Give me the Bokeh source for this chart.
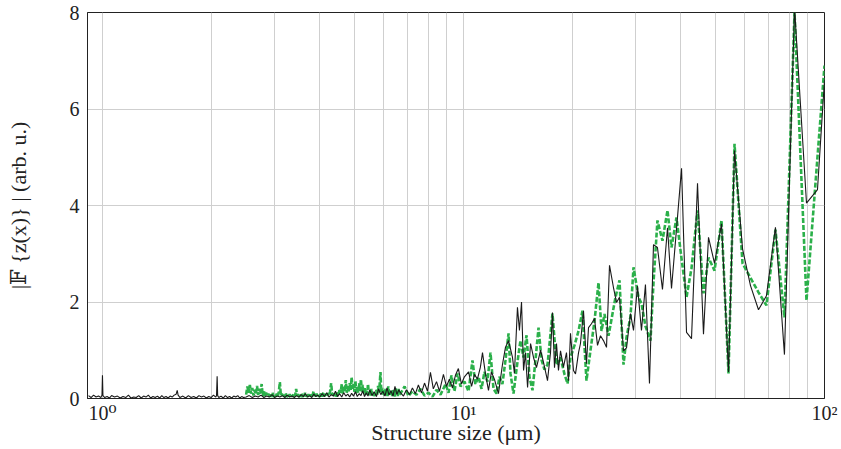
from bokeh.plotting import figure
from bokeh.models import Range1d, FixedTicker
from bokeh.embed import file_html
from bokeh.resources import INLINE

# ---------------- data ----------------
# black series: structure size (um) and |F{z(x)}|
black_x = [
    0.915, 0.93, 0.945, 0.96, 0.975, 0.99, 0.997, 1.0, 1.003, 1.015, 1.03, 1.045, 1.06, 1.08,
    1.10, 1.12, 1.14, 1.16, 1.18, 1.20, 1.22, 1.24, 1.26, 1.28, 1.30, 1.32, 1.34, 1.36, 1.38,
    1.40, 1.42, 1.44, 1.46, 1.48, 1.50, 1.52, 1.54, 1.56, 1.58, 1.60, 1.611, 1.62, 1.64, 1.67,
    1.70, 1.73, 1.76, 1.79, 1.82, 1.85, 1.88, 1.91, 1.94, 1.97, 2.00, 2.03, 2.06, 2.07, 2.078,
    2.085, 2.10, 2.13, 2.16, 2.19, 2.22, 2.25, 2.28, 2.31, 2.34, 2.37, 2.40, 2.43, 2.46,
    2.50, 2.55, 2.60, 2.65, 2.70, 2.75, 2.80, 2.85, 2.90, 2.95, 3.00, 3.05, 3.10, 3.15, 3.20,
    3.25, 3.30, 3.35, 3.40, 3.45, 3.50, 3.55, 3.60, 3.65, 3.70, 3.75, 3.80, 3.85, 3.90, 3.95,
    4.00, 4.06, 4.12, 4.18, 4.24, 4.30, 4.36, 4.42, 4.48, 4.54, 4.60, 4.66, 4.72, 4.78, 4.84,
    4.90, 4.96, 5.02, 5.08, 5.14, 5.20, 5.26, 5.32, 5.38, 5.44, 5.50, 5.58, 5.66, 5.74, 5.82,
    5.90, 5.98, 6.06, 6.14, 6.22, 6.30, 6.38, 6.46, 6.54, 6.62,
    6.69, 6.82, 6.95, 7.09, 7.22, 7.36, 7.50, 7.65, 7.80, 7.95, 8.10, 8.25, 8.42, 8.58, 8.80,
    8.97, 9.14, 9.32, 9.50, 9.68, 9.87, 10.06, 10.33, 10.53, 10.73, 10.93, 11.14, 11.29, 11.51,
    11.73, 11.95, 12.18, 12.50, 12.82, 13.07, 13.33, 13.67, 13.84, 14.11, 14.29, 14.48, 14.67,
    14.85, 15.05, 15.34, 15.63, 15.93, 16.35, 16.66, 17.09, 17.42, 17.64, 17.87, 18.10, 18.33,
    18.57, 18.92, 19.29, 19.54, 19.79, 20.17, 20.43, 20.83, 21.09, 21.50, 21.91, 22.20, 22.62,
    23.06, 23.51, 23.96, 24.42, 24.90,
    25.38, 26.03, 26.54, 27.05, 27.75, 28.29, 29.02, 29.58, 30.34, 31.12, 31.92, 32.75, 33.60,
    34.46, 35.58, 36.74, 37.69, 38.90, 40.18, 41.48, 42.82, 44.49, 46.22, 47.72, 49.59, 51.85,
    54.22, 56.33, 59.29, 62.37, 65.64, 69.06, 73.14, 77.46, 82.60, 89.15, 95.63, 100.0,
]
black_y = [
    0.06, 0.02, 0.07, 0.03, 0.05, 0.02, 0.07, 0.48, 0.06, 0.02, 0.04, 0.01, 0.06, 0.03,
    0.05, 0.01, 0.04, 0.02, 0.07, 0.01, 0.03, 0.02, 0.06, 0.01, 0.05, 0.03, 0.07, 0.01, 0.04,
    0.02, 0.05, 0.01, 0.06, 0.02, 0.04, 0.01, 0.05, 0.03, 0.07, 0.09, 0.17, 0.07, 0.02, 0.05,
    0.01, 0.06, 0.02, 0.04, 0.01, 0.06, 0.03, 0.05, 0.01, 0.04, 0.02, 0.07, 0.03, 0.06, 0.46,
    0.06, 0.02, 0.05, 0.01, 0.06, 0.02, 0.04, 0.01, 0.05, 0.03, 0.06, 0.01, 0.04, 0.02,
    0.03, 0.06, 0.02, 0.05, 0.03, 0.07, 0.02, 0.05, 0.03, 0.08, 0.02, 0.05, 0.03, 0.06, 0.02,
    0.07, 0.03, 0.05, 0.02, 0.06, 0.03, 0.08, 0.04, 0.10, 0.03, 0.06, 0.02, 0.09, 0.04, 0.07,
    0.03, 0.10, 0.04, 0.12, 0.03, 0.08, 0.05, 0.15, 0.04, 0.10, 0.03, 0.12, 0.05, 0.09, 0.03,
    0.11, 0.05, 0.14, 0.04, 0.10, 0.06, 0.16, 0.04, 0.12, 0.05, 0.18, 0.06, 0.14, 0.04, 0.20,
    0.08, 0.15, 0.05, 0.22, 0.07, 0.16, 0.05, 0.25, 0.08, 0.18,
    0.12, 0.05, 0.18, 0.08, 0.22, 0.10, 0.28, 0.12, 0.32, 0.15, 0.54, 0.20, 0.35, 0.15, 0.50,
    0.25, 0.40, 0.22, 0.48, 0.62, 0.30, 0.45, 0.55, 0.25, 0.50, 0.40, 0.65, 0.95, 0.50,
    0.17, 0.55, 0.40, 0.10, 0.70, 1.06, 1.20, 0.85, 0.52, 1.89, 1.41, 2.00, 0.58,
    0.95, 0.23, 1.14, 0.85, 0.64, 1.00, 0.75, 0.37, 0.95, 1.78, 0.64, 1.14, 0.58,
    0.99, 0.65, 0.95, 0.37, 1.35, 0.58, 0.51, 0.95, 1.14, 1.82, 0.72, 1.47, 1.55,
    1.66, 1.10, 1.30, 1.20, 1.06,
    2.76, 2.30, 1.99, 2.10, 0.99, 1.05, 1.76, 1.41, 2.33, 1.41, 2.36, 0.31, 3.19,
    3.13, 2.26, 3.54, 2.28, 3.50, 4.77, 1.37, 1.24, 4.46, 1.33, 3.34, 2.80, 3.62,
    0.55, 5.14, 3.10, 2.34, 1.84, 2.13, 3.55, 0.91, 8.10, 4.05, 4.33, 6.60,
]

# green series
green_x = [
    2.50, 2.52, 2.54, 2.56, 2.58, 2.60, 2.62, 2.64, 2.66, 2.68, 2.70, 2.72, 2.74, 2.76, 2.78,
    2.80, 2.82, 2.84, 2.86, 2.88, 2.90, 2.92, 2.94, 2.96, 2.98, 3.00, 3.02, 3.04, 3.06, 3.08,
    3.10, 3.12, 3.14, 3.16, 3.18, 3.20, 3.22, 3.24, 3.26, 3.28, 3.30, 3.32, 3.34, 3.36, 3.38,
    3.40, 3.42, 3.44, 3.46, 3.48, 3.50, 3.52, 3.54, 3.56, 3.58, 3.60, 3.62, 3.64, 3.66, 3.68,
    3.70, 3.72, 3.74, 3.76, 3.78, 3.80, 3.82, 3.84, 3.86, 3.88, 3.90, 3.92, 3.94, 3.96, 3.98,
    4.00, 4.03, 4.06, 4.09, 4.12, 4.15, 4.18, 4.21, 4.24, 4.27, 4.30, 4.33, 4.36, 4.39, 4.42,
    4.45, 4.48, 4.51, 4.54, 4.57, 4.60, 4.63, 4.66, 4.69, 4.72, 4.75, 4.78, 4.81, 4.84, 4.87,
    4.90, 4.93, 4.96, 4.99, 5.02, 5.05, 5.08, 5.11, 5.14, 5.17, 5.20, 5.23, 5.26, 5.29, 5.32,
    5.35, 5.38, 5.41, 5.44, 5.47, 5.50, 5.53, 5.56, 5.59, 5.62, 5.65, 5.68, 5.71, 5.74, 5.77,
    5.80, 5.83, 5.86, 5.89, 5.92, 5.95, 5.98, 6.01, 6.04, 6.07, 6.10, 6.13, 6.16, 6.19, 6.22,
    6.25, 6.28, 6.31, 6.34, 6.37, 6.40, 6.43, 6.46, 6.49, 6.52, 6.55, 6.58, 6.61, 6.64,
    6.69, 6.87, 7.04, 7.22, 7.41, 7.60, 7.80, 8.00, 8.21, 8.42, 8.64, 8.92, 9.09, 9.26, 9.44,
    9.63, 9.81, 10.06, 10.33, 10.59, 10.79, 11.01, 11.22, 11.43, 11.65, 11.88, 12.11, 12.35,
    12.58, 12.82, 13.07, 13.33, 13.50, 13.76, 14.02, 14.38, 14.67, 14.95, 15.23, 15.53, 15.83,
    16.14, 16.45, 16.76, 17.09, 17.64, 18.10, 18.57, 19.05, 19.42, 19.79, 20.30, 20.83, 21.36,
    21.91, 22.48, 23.06, 23.66, 24.12, 24.58, 25.22, 25.86, 26.37, 27.05, 27.75, 28.29, 29.02,
    29.58, 30.53, 31.12, 31.92, 32.96, 33.60,
    34.46, 35.58, 36.74, 37.69, 38.90, 40.18, 41.48, 42.82, 44.49, 46.22, 47.72, 49.59, 51.85,
    54.22, 56.33, 59.29, 62.37, 65.64, 69.06, 73.14, 77.46, 82.60, 89.15, 100.0,
]
green_y = [
    0.08, 0.25, 0.12, 0.28, 0.10, 0.22, 0.06, 0.18, 0.09, 0.26, 0.07, 0.20, 0.10, 0.30, 0.05,
    0.16, 0.04, 0.12, 0.05, 0.10, 0.03, 0.08, 0.04, 0.12, 0.03, 0.07, 0.04, 0.10, 0.05, 0.14,
    0.34, 0.06, 0.10, 0.03, 0.08, 0.04, 0.11, 0.03, 0.07, 0.04, 0.09, 0.03, 0.06, 0.04, 0.10,
    0.05, 0.08, 0.20, 0.05, 0.09, 0.03, 0.07, 0.04, 0.10, 0.03, 0.08, 0.05, 0.12, 0.04, 0.07,
    0.03, 0.09, 0.05, 0.11, 0.04, 0.07, 0.03, 0.15, 0.05, 0.08, 0.04, 0.10, 0.05, 0.07, 0.04,
    0.06, 0.10, 0.04, 0.12, 0.05, 0.09, 0.04, 0.11, 0.06, 0.14, 0.32, 0.07, 0.12, 0.05, 0.10,
    0.04, 0.13, 0.08, 0.20, 0.12, 0.30, 0.10, 0.24, 0.14, 0.38, 0.12, 0.26, 0.15, 0.32, 0.18,
    0.44, 0.20, 0.30, 0.14, 0.36, 0.10, 0.25, 0.12, 0.32, 0.16, 0.40, 0.14, 0.28, 0.10, 0.24,
    0.07, 0.18, 0.09, 0.30, 0.08, 0.16, 0.06, 0.20, 0.08, 0.14, 0.05, 0.12, 0.06, 0.18, 0.08,
    0.26, 0.12, 0.30, 0.55, 0.14, 0.22, 0.08, 0.18, 0.06, 0.20, 0.07, 0.15, 0.05, 0.25, 0.09,
    0.16, 0.06, 0.14, 0.05, 0.18, 0.07, 0.12, 0.04, 0.22, 0.08, 0.15, 0.05, 0.20, 0.08,
    0.10, 0.25, 0.05, 0.15, 0.08, 0.20, 0.06, 0.12, 0.04, 0.18, 0.08, 0.30, 0.12, 0.48, 0.15,
    0.52, 0.25, 0.35, 0.15, 0.79, 0.30, 0.45, 0.20, 0.55, 0.35, 0.95, 0.20, 0.10,
    0.45, 0.30, 0.79, 1.35, 0.51, 0.10, 0.60, 1.20, 0.85, 1.31, 0.45, 0.17, 0.80,
    1.47, 0.80, 0.60, 0.70, 1.76, 0.70, 0.85, 0.50, 0.31, 0.85, 1.10, 1.40, 1.82,
    0.37, 1.00, 1.60, 2.40, 1.40, 1.75, 1.30, 1.75, 2.10, 2.45, 0.70, 1.27, 1.70,
    2.72, 2.10, 1.97, 1.50, 1.20, 2.40,
    3.69, 3.27, 3.90, 3.13, 3.75, 2.90, 2.10, 2.70, 3.90, 2.18, 2.92, 2.65, 3.69,
    0.52, 5.28, 2.80, 2.50, 2.20, 1.93, 3.50, 1.68, 8.00, 2.03, 6.90,
]

x_tick_values = [1, 10, 100]
x_tick_labels = ["10⁰", "10¹", "10²"]
y_tick_values = [0, 2, 4, 6, 8]

FONT = "'Liberation Serif', 'DejaVu Serif', serif"

p = figure(
    width=841, height=449,
    x_axis_type="log",
    x_range=Range1d(0.909, 100), y_range=Range1d(0, 8),
    output_backend="svg", toolbar_location=None,
    min_border_left=87, min_border_right=17, min_border_top=12, min_border_bottom=51,
)

p.line(green_x, green_y, line_color="#2bb04a", line_width=2.6, line_dash="5 2")
p.line(black_x, black_y, line_color="#1a1a1a", line_width=1.1)

# axes
p.xaxis.ticker = FixedTicker(ticks=x_tick_values,
                             minor_ticks=[2, 3, 4, 5, 6, 7, 8, 9, 20, 30, 40, 50, 60, 70, 80, 90])
p.xaxis.major_label_overrides = {v: s for v, s in zip(x_tick_values, x_tick_labels)}
p.yaxis.ticker = FixedTicker(ticks=y_tick_values)

for ax in (p.xaxis[0], p.yaxis[0]):
    ax.axis_line_color = "#222222"
    ax.major_tick_out = 0
    ax.major_tick_in = 0
    ax.minor_tick_out = 0
    ax.minor_tick_in = 0
    ax.major_label_text_font = FONT
    ax.major_label_text_font_size = "20px"
    ax.major_label_text_color = "#222222"
    ax.axis_label_text_font = FONT
    ax.axis_label_text_font_size = "22px"
    ax.axis_label_text_font_style = "normal"
    ax.axis_label_text_color = "#222222"

p.xaxis.axis_label = "Structure size (μm)"
p.yaxis.axis_label = "|𝔽 {z(x)} | (arb. u.)"
p.xaxis.major_label_standoff = 3
p.xaxis.axis_label_standoff = -7
p.yaxis.major_label_standoff = 8
p.yaxis.axis_label_standoff = 36

# grid
p.xgrid.grid_line_color = "#cfcfcf"
p.xgrid.minor_grid_line_color = "#cfcfcf"
p.ygrid.grid_line_color = "#cfcfcf"
p.xgrid.grid_line_width = 1
p.ygrid.grid_line_width = 1

p.outline_line_color = "#222222"
p.outline_line_width = 1
p.background_fill_color = "white"
p.border_fill_color = "white"

open("out.html", "w").write(file_html(p, INLINE))
